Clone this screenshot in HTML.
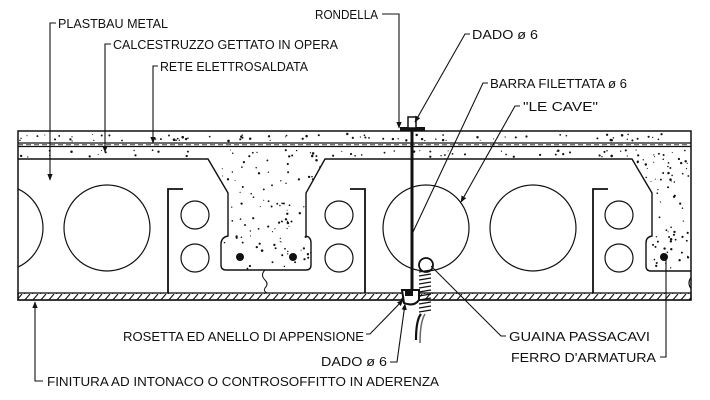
<!DOCTYPE html>
<html><head><meta charset="utf-8">
<style>
html,body{margin:0;padding:0;background:#fff;}
svg{display:block;}
text{font-family:"Liberation Sans",sans-serif;font-size:13px;fill:#111;}
</style></head>
<body>
<svg id="s" width="710" height="400" viewBox="0 0 710 400" xmlns="http://www.w3.org/2000/svg">
<defs>
<pattern id="hatch" width="8" height="7" patternUnits="userSpaceOnUse">
<line x1="0" y1="7" x2="6" y2="0" stroke="#111" stroke-width="1.1"/>
</pattern>
<clipPath id="slab"><rect x="18" y="131" width="673" height="162"/></clipPath>
<marker id="ar" viewBox="0 0 10 10" refX="9" refY="5" markerWidth="6" markerHeight="6" orient="auto-start-reverse">
<path d="M0,1 L10,5 L0,9 z" fill="#111"/></marker>
</defs>

<rect x="18" y="131" width="673" height="169" fill="#fff" stroke="#111" stroke-width="1.5"/>
<line x1="18" y1="143" x2="691" y2="143" stroke="#111" stroke-width="1.3"/>
<line x1="18" y1="146.5" x2="691" y2="146.5" stroke="#111" stroke-width="1.3"/>
<line x1="18" y1="144.8" x2="691" y2="144.8" stroke="#444" stroke-width="1" stroke-dasharray="5 3"/>

<path d="M18,159 H208 L228,193 V236 Q222,237 221,243 V265 Q221,270 226,270 H306 Q311,270 311,265 V243 Q311,237 306,236 V193 L325,159 H632 L652,193 V236 Q646,237 646,243 V266 Q646,271 651,271 H691" fill="none" stroke="#111" stroke-width="1.4"/>

<rect x="18" y="293" width="673" height="7" fill="url(#hatch)" stroke="#111" stroke-width="1.3"/>

<g clip-path="url(#slab)" fill="none" stroke="#111" stroke-width="1.2">
<circle cx="0" cy="228" r="43"/>
<circle cx="107" cy="228" r="43"/>
<circle cx="426" cy="228" r="43"/>
<circle cx="533" cy="228" r="43"/>
<circle cx="697" cy="283" r="8"/>
</g>
<g fill="none" stroke="#111" stroke-width="1.2">
<circle cx="195" cy="215" r="14"/><circle cx="195" cy="258" r="14"/>
<circle cx="339" cy="215" r="14"/><circle cx="339" cy="258" r="14"/>
<circle cx="619" cy="215" r="14"/><circle cx="619" cy="258" r="14"/>
</g>
<g fill="none" stroke="#111" stroke-width="1.8">
<path d="M183,189 H168 V293"/>
<path d="M350,189 H365 V293"/>
<path d="M608,189 H593 V293"/>
</g>
<path d="M265,270 q-5,5 0,10 q4,4 0,8 q-2,3 2,5" fill="none" stroke="#111" stroke-width="1"/>

<g id="dots" fill="#111"></g>

<circle cx="240" cy="257" r="4" fill="#111"/>
<circle cx="293" cy="257" r="4" fill="#111"/>
<circle cx="664" cy="257" r="4" fill="#111"/>

<rect x="410.5" y="118" width="3" height="174" fill="#111"/>
<rect x="400" y="127" width="25" height="4" fill="#111"/>
<rect x="408" y="117" width="8" height="11" fill="#fff" stroke="#111" stroke-width="1.5"/>
<circle cx="426" cy="265" r="7" fill="#fff" stroke="#111" stroke-width="1.8"/>
<g stroke="#111" stroke-width="1.3">
<line x1="419" y1="272" x2="431" y2="270"/><line x1="419" y1="276" x2="431" y2="274"/>
<line x1="419" y1="280" x2="431" y2="278"/><line x1="419" y1="284" x2="431" y2="282"/>
<line x1="419" y1="288" x2="431" y2="286"/><line x1="419" y1="292" x2="431" y2="290"/>
<line x1="419" y1="296" x2="431" y2="294"/><line x1="419" y1="300" x2="431" y2="298"/>
<line x1="419" y1="304" x2="431" y2="302"/><line x1="419" y1="308" x2="431" y2="306"/>
<line x1="419" y1="312" x2="431" y2="310"/>
</g>
<path d="M421,314 Q416,320 416,340" fill="none" stroke="#111" stroke-width="2.2"/>
<path d="M425,314 Q420,322 420,343" fill="none" stroke="#666" stroke-width="1.5"/>
<path d="M402,290 H419 V300 Q414,307 404,303 Z" fill="#fff" stroke="#111" stroke-width="2"/>
<rect x="405" y="291" width="8" height="5" fill="#111"/>

<g fill="none" stroke="#111" stroke-width="1.1">
<path d="M56,23 H50 V180" marker-end="url(#ar)"/>
<path d="M111,44 H105 V152" marker-end="url(#ar)"/>
<path d="M158,66 H153 V143" marker-end="url(#ar)"/>
<path d="M382,14 H399 V128" marker-end="url(#ar)"/>
<path d="M470,34 H465 L415,122" marker-end="url(#ar)"/>
<path d="M488,83 H483 L413,232"/>
<path d="M520,106 H515 L461,202" marker-end="url(#ar)"/>
<path d="M366,334 H370 L403,300" marker-end="url(#ar)"/>
<path d="M390,362 H397 L405,304" marker-end="url(#ar)"/>
<path d="M506,336 H501 L431,266"/>
<path d="M660,357 H666 V257"/>
<path d="M43,381 H35 V302" marker-end="url(#ar)"/>
</g>

<text x="58" y="28" textLength="110" lengthAdjust="spacingAndGlyphs">PLASTBAU METAL</text>
<text x="113" y="49" textLength="225" lengthAdjust="spacingAndGlyphs">CALCESTRUZZO GETTATO IN OPERA</text>
<text x="160" y="71" textLength="148" lengthAdjust="spacingAndGlyphs">RETE ELETTROSALDATA</text>
<text x="315" y="19" textLength="63" lengthAdjust="spacingAndGlyphs">RONDELLA</text>
<text x="472" y="39" textLength="66" lengthAdjust="spacingAndGlyphs">DADO ø 6</text>
<text x="490" y="88" textLength="137" lengthAdjust="spacingAndGlyphs">BARRA FILETTATA ø 6</text>
<text x="523" y="111" textLength="75" lengthAdjust="spacingAndGlyphs">"LE CAVE"</text>
<text x="123" y="341" textLength="241" lengthAdjust="spacingAndGlyphs">ROSETTA ED ANELLO DI APPENSIONE</text>
<text x="321" y="366" textLength="66" lengthAdjust="spacingAndGlyphs">DADO ø 6</text>
<text x="509" y="341" textLength="141" lengthAdjust="spacingAndGlyphs">GUAINA PASSACAVI</text>
<text x="511" y="362" textLength="145" lengthAdjust="spacingAndGlyphs">FERRO D'ARMATURA</text>
<text x="47" y="386" textLength="392" lengthAdjust="spacingAndGlyphs">FINITURA AD INTONACO O CONTROSOFFITTO IN ADERENZA</text>
</svg>
<script>
(function(){
var seed=7;function r(){seed=(seed*16807)%2147483647;return (seed-1)/2147483646;}
var g=document.getElementById('dots'),ns='http://www.w3.org/2000/svg';
function dot(x,y){var c=document.createElementNS(ns,'circle');c.setAttribute('cx',x.toFixed(1));c.setAttribute('cy',y.toFixed(1));c.setAttribute('r',(0.5+r()*0.8).toFixed(2));g.appendChild(c);}
function inRib(x,y,l,rr){
 if(y<159||y>269)return false;
 if(y<193){var t=(y-159)/34;return x>l+t*20+2&&x<rr-t*20-2;}
 if(y<238)return x>l+22&&x<rr-21;
 return x>l+15&&x<rr-16;}
var i,x,y;
for(i=0;i<80;i++){x=20+r()*669;y=134+r()*7;dot(x,y);}
for(i=0;i<70;i++){x=20+r()*669;y=150+r()*7;dot(x,y);}
for(i=0;i<120;i++){x=208+r()*117;y=159+r()*110;if(inRib(x,y,206,327))dot(x,y);}
for(i=0;i<90;i++){x=632+r()*58;y=159+r()*111;
 var ok=false;if(y<193){ok=x>632+(y-159)/34*20+2;}else if(y<238){ok=x>655;}else ok=x>649;
 if(ok&&x<689)dot(x,y);}
})();
</script>
</body></html>
